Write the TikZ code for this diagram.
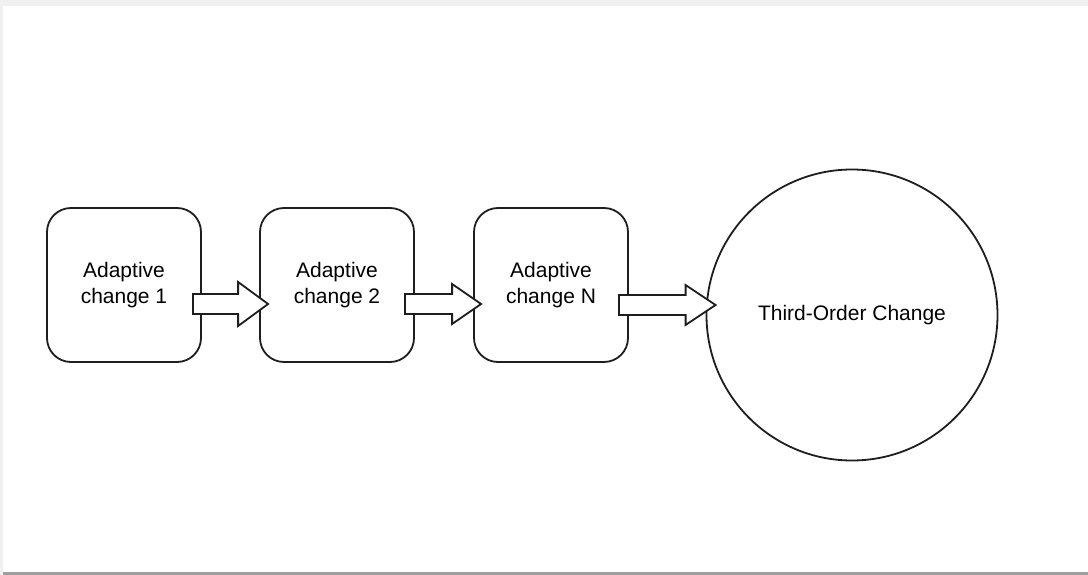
\documentclass[tikz,border=0pt]{standalone}
\usepackage{fontspec}
\setmainfont{Liberation Sans}
\usetikzlibrary{calc}
\definecolor{edge}{HTML}{1E1E1E}
\tikzset{
  stagebox/.style={draw=edge, line width=1.8pt, rounded corners=24pt,
    minimum width=154pt, minimum height=154pt, inner sep=0pt, align=center,
    font=\fontsize{21pt}{26pt}\selectfont},
  goal/.style={circle, draw=edge, line width=1.8pt, minimum size=291pt,
    inner sep=0pt, font=\fontsize{21pt}{26pt}\selectfont},
  fatarrow/.style={draw=edge, fill=white, line width=1.8pt, line join=miter}
}
\begin{document}
\begin{tikzpicture}[x=1pt,y=-1pt]
  % page frame
  \fill[gray!12] (0,0) rectangle (1088,575);
  \fill[white] (3,6) rectangle (1088,572);
  \fill[gray!75] (3,572) rectangle (1088,575);
  \useasboundingbox (0,0) rectangle (1088,575);

  \node[stagebox] (a1) at (124,285) {Adaptive\\change 1};
  \node[stagebox] (a2) at (337,285) {Adaptive\\change 2};
  \node[stagebox] (aN) at (551,285) {Adaptive\\change N};
  \node[goal] (toc) at (852,315) {Third-Order Change};

  % tails start inside the source box, tips end inside the target
  \coordinate (s1) at ($(a1.east)+(-9,19)$);
  \coordinate (t1) at ($(a2.west)+(9,0)$);
  \coordinate (s2) at ($(a2.east)+(-10,19)$);
  \coordinate (t2) at ($(aN.west)+(8,0)$);
  \coordinate (s3) at ($(aN.east)+(-10,20)$);
  \coordinate (t3) at ($(toc.west)+(10,0)$);

  % hollow block arrows: shaft half-width 10pt, head about 30pt long
  \draw[fatarrow] let \p1=(s1), \p2=(t1) in
    (\x1,\y1+10pt) -- (\x2-30pt,\y1+10pt) -- (\x2-30pt,\y1+22pt) -- (\x2,\y1)
    -- (\x2-30pt,\y1-22pt) -- (\x2-30pt,\y1-10pt) -- (\x1,\y1-10pt) -- cycle;
  \draw[fatarrow] let \p1=(s2), \p2=(t2) in
    (\x1,\y1+10pt) -- (\x2-29pt,\y1+10pt) -- (\x2-29pt,\y1+20pt) -- (\x2,\y1)
    -- (\x2-29pt,\y1-20pt) -- (\x2-29pt,\y1-10pt) -- (\x1,\y1-10pt) -- cycle;
  \draw[fatarrow] let \p1=(s3), \p2=(t3) in
    (\x1,\y1+10pt) -- (\x2-30pt,\y1+10pt) -- (\x2-30pt,\y1+20pt) -- (\x2,\y1)
    -- (\x2-30pt,\y1-20pt) -- (\x2-30pt,\y1-10pt) -- (\x1,\y1-10pt) -- cycle;
\end{tikzpicture}
\end{document}
